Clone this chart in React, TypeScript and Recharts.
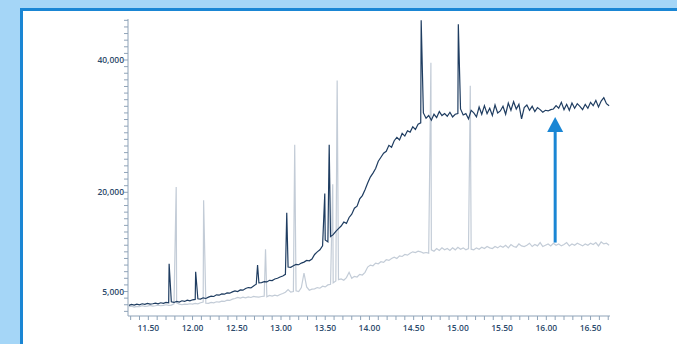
import { CartesianGrid, Line, LineChart, ReferenceLine, XAxis, YAxis } from "recharts";

// acquisition grid (minutes)
const RUN_START = 11.28;
const SAMPLE_STEP = 0.03;

// sample trace (dark) baseline, one value per grid step
const SAMPLE_TRACE = [
  2900, 3050, 2950, 3100, 3000, 3150, 3050, 3200, 3100, 3150,
  3250, 3150, 3300, 3200, 3350, 3300, 3450, 3350, 3500, 3400,
  3600, 3500, 3700, 3600, 3750, 3800, 3900, 3850, 4050, 3950,
  4150, 4300, 4250, 4500, 4450, 4650, 4600, 4800, 4750, 4950,
  5100, 5000, 5250, 5200, 5450, 5600, 5550, 5850, 6100, 6300,
  6350, 6500, 6450, 6700, 6650, 6900, 7000, 7200, 7350, 7600,
  8700, 8650, 8900, 9100, 9050, 9300, 9450, 9700, 9650, 9900,
  10600, 11000, 11300, 11900, 12800, 12500, 13300, 13600, 14100, 14500,
  14900, 15500, 15300, 16200, 16700, 17600, 17900, 19000, 19500, 20400,
  21400, 22300, 22900, 23600, 24700, 25300, 25900, 26200, 27100, 26800,
  27800, 28300, 27900, 28900, 28500, 29300, 29100, 29900, 29500, 30300,
  30500, 32000, 31200, 31600, 30900, 31800, 31300, 32200, 31600, 31900,
  31500, 32100, 31400, 31800, 31900, 32600, 31700, 31900, 31100, 32400,
  32000, 31400, 32900, 31800, 33100, 31900, 32700, 31600, 33200, 32000,
  32300, 33000, 31800, 33500, 32400, 33700, 32600, 33300, 31100, 32800,
  33200, 32400, 33000, 32200, 32800, 32500, 32100, 32400, 32300, 32500,
  32600, 33100, 32700, 33600, 32500, 33300, 32400, 33500, 32700, 33400,
  33000, 32500, 33300, 32700, 33600, 33100, 33900, 32900, 33800, 34300, 33400, 33100,
];

// blank / reference trace (light) baseline
const BLANK_TRACE = [
  2700, 2800, 2650, 2750, 2700, 2850, 2750, 2800, 2900, 2800,
  2850, 2950, 2850, 2900, 3000, 2900, 2950, 3150, 3300, 3100,
  3000, 3100, 3050, 3150, 3100, 3200, 3150, 3300, 3400, 3250,
  3200, 3350, 3300, 3450, 3400, 3550, 3500, 3700, 3650, 3850,
  3950, 4100, 4000, 4150, 4050, 4200, 4100, 4250, 4200, 4150,
  4250, 4300, 4200, 4400, 4300, 4450, 4350, 4550, 4700, 4900,
  5300, 4900, 5000, 5100, 5000, 5600, 7800, 5700, 5200, 5350,
  5400, 5600, 5500, 5800, 5700, 6000, 6100, 6300, 6600, 6800,
  6900, 6700, 7100, 7900, 7000, 7300, 7200, 7600, 7500, 7900,
  8700, 9000, 8900, 9300, 9200, 9500, 9400, 9800, 9700, 10000,
  10200, 10000, 10400, 10300, 10600, 10500, 10800, 11000, 10900, 11100,
  11000, 10800, 10900, 10800, 11300, 11100, 11500, 11200, 11600, 11300,
  11500, 11200, 11600, 11300, 11700, 11400, 11600, 11300, 11500, 11400,
  11300, 11600, 11400, 11700, 11500, 11800, 11600, 11500, 11800, 11600,
  11900, 11700, 12000, 11600, 12100, 11800, 11700, 12200, 11900, 11800,
  12000, 12300, 11800, 12100, 11900, 12400, 11800, 12000, 12200, 11900,
  12300, 12000, 12200, 11900, 12100, 12400, 11900, 12200, 12000, 12300,
  12100, 11900, 12200, 12000, 12300, 12100, 12400, 11900, 12500, 12200, 12300, 12000,
];

// peak apexes: [retention time, height]
const SAMPLE_PEAKS: [number, number][] = [
  [11.735, 9200],
  [12.035, 8000],
  [12.735, 9000],
  [13.065, 16900],
  [13.495, 19800],
  [13.545, 27200],
  [14.585, 46000],
  [15.005, 45400],
];

const BLANK_PEAKS: [number, number][] = [
  [11.815, 20800],
  [12.125, 18800],
  [12.825, 11400],
  [13.155, 27200],
  [13.585, 21200],
  [13.635, 36900],
  [14.695, 39600],
  [15.14, 36100],
];

const Y_LABELS = [5000, 20000, 40000];
const X_LABELS = [11.5, 12, 12.5, 13, 13.5, 14, 14.5, 15, 15.5, 16, 16.5];

// arrow annotation: from blank level up to sample plateau
const ARROW_TIME = 16.1;
const ARROW_FROM = 12400;
const ARROW_TO = 31400;

function buildTrace(base: number[], peaks: [number, number][]) {
  const pts = base.map((v, i) => ({ t: Number((RUN_START + i * SAMPLE_STEP).toFixed(3)), v }));
  for (const [t, v] of peaks) pts.push({ t, v });
  return pts.sort((a, b) => a.t - b.t);
}

const sampleData = buildTrace(SAMPLE_TRACE, SAMPLE_PEAKS);
const blankData = buildTrace(BLANK_TRACE, BLANK_PEAKS);

const yTicks: number[] = [];
for (let v = 2000; v <= 46000; v += 1000) yTicks.push(v);
const xTicks: number[] = [];
for (let k = 113; k <= 167; k++) xTicks.push(k / 10);

const AXIS = "#8fa3b8";
const LABEL = "#2d4b6c";
const tickStyle = { fontSize: 8.5, fill: LABEL, fontWeight: 600, fontFamily: "'Open Sans', sans-serif" };

function Arrow(props: any) {
  const { x1, y1, y2 } = props;
  const top = Math.min(y1, y2);
  const bottom = Math.max(y1, y2);
  return (
    <g>
      <line x1={x1} x2={x1} y1={bottom} y2={top + 14} stroke="#1a86d4" strokeWidth={3} />
      <polygon points={`${x1 - 8},${top + 15} ${x1 + 8},${top + 15} ${x1},${top}`} fill="#1a86d4" />
    </g>
  );
}

export default function App() {
  return (
    <div style={{ position: "fixed", left: 0, top: 0, width: 677, height: 344, background: "#a5d6f7", overflow: "hidden" }}>
      <div
        style={{
          position: "absolute",
          left: 20,
          top: 8,
          width: 700,
          height: 400,
          background: "#fff",
          borderTop: "3px solid #1a86d4",
          borderLeft: "3px solid #1a86d4",
        }}
      />
      <div style={{ position: "absolute", left: 0, top: 0 }}>
        <LineChart width={677} height={344} margin={{ top: 19, right: 67, bottom: 8, left: 68 }}>
          <CartesianGrid stroke="none" />
          <XAxis
            type="number"
            dataKey="t"
            domain={[11.27, 16.72]}
            allowDataOverflow
            ticks={xTicks}
            interval={0}
            tickSize={4}
            tickMargin={5}
            height={20}
            stroke={AXIS}
            tickLine={{ stroke: AXIS }}
            tick={tickStyle}
            tickFormatter={(v: number) => (X_LABELS.some((l) => Math.abs(l - v) < 1e-6) ? v.toFixed(2) : "")}
          />
          <YAxis
            type="number"
            dataKey="v"
            domain={[1300, 46200]}
            allowDataOverflow
            ticks={yTicks}
            interval={0}
            tickSize={4}
            tickMargin={0}
            width={60}
            stroke={AXIS}
            tickLine={{ stroke: AXIS }}
            tick={tickStyle}
            tickFormatter={(v: number) => (Y_LABELS.includes(v) ? v.toLocaleString("en-US") : "")}
          />
          <Line
            data={blankData}
            dataKey="v"
            type="linear"
            stroke="#c3ccd7"
            strokeWidth={1.2}
            dot={false}
            activeDot={false}
            isAnimationActive={false}
          />
          <Line
            data={sampleData}
            dataKey="v"
            type="linear"
            stroke="#1f3d61"
            strokeWidth={1.2}
            dot={false}
            activeDot={false}
            isAnimationActive={false}
          />
          <ReferenceLine
            segment={[
              { x: ARROW_TIME, y: ARROW_FROM },
              { x: ARROW_TIME, y: ARROW_TO },
            ]}
            shape={Arrow}
          />
        </LineChart>
      </div>
    </div>
  );
}
